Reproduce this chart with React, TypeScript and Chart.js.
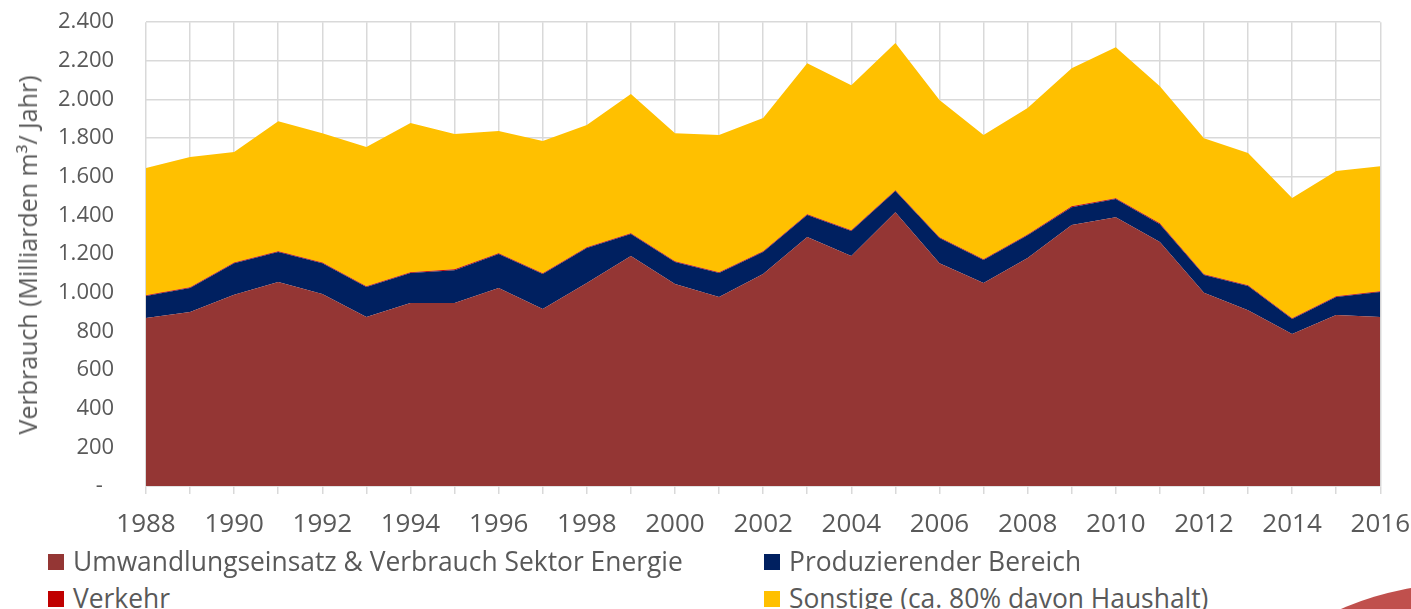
import React, { useEffect, useRef } from "react";
import { Chart, registerables } from "chart.js";

Chart.register(...registerables);

const years = [
  "1988", "1989", "1990", "1991", "1992", "1993", "1994", "1995", "1996", "1997",
  "1998", "1999", "2000", "2001", "2002", "2003", "2004", "2005", "2006", "2007",
  "2008", "2009", "2010", "2011", "2012", "2013", "2014", "2015", "2016",
];

const energieSektor = [
  869, 900, 990, 1055, 993, 874, 947, 947, 1024, 916,
  1050, 1190, 1045, 978, 1097, 1288, 1190, 1417, 1153, 1050,
  1180, 1350, 1391, 1263, 1000, 910, 786, 885, 874,
];

const produzierend = [
  114, 124, 163, 156, 160, 156, 155, 170, 176, 181,
  181, 114, 114, 124, 114, 114, 129, 109, 130, 119,
  118, 93, 94, 92, 92, 125, 78, 93, 130,
];

const verkehr = [
  4, 4, 4, 4, 4, 4, 4, 4, 4, 4,
  4, 4, 4, 4, 4, 4, 4, 4, 4, 4,
  4, 4, 4, 4, 4, 4, 4, 4, 4,
];

const sonstige = [
  658, 674, 571, 673, 669, 720, 772, 700, 633, 684,
  633, 720, 663, 710, 689, 782, 751, 762, 710, 643,
  654, 715, 782, 710, 704, 684, 622, 648, 647,
];

const seriesNames = [
  "Umwandlungseinsatz & Verbrauch Sektor Energie",
  "Produzierender Bereich",
  "Verkehr",
  "Sonstige (ca. 80% davon Haushalt)",
];

const seriesColors = ["#943634", "#002060", "#C00000", "#FFC000"];

const yTitle = "Verbrauch (Milliarden m³/ Jahr)";

const FONT = "'Open Sans', 'DejaVu Sans', sans-serif";
const TEXT = "#595959";
const GRID = "#D9D9D9";

function formatTick(v: number): string {
  if (v === 0) return "-      ";
  const s = Math.round(v).toString();
  return s.replace(/\B(?=(\d{3})+(?!\d))/g, ".") + "    ";
}

export default function App() {
  const canvasRef = useRef<HTMLCanvasElement | null>(null);

  useEffect(() => {
    document.body.style.margin = "0";
    const canvas = canvasRef.current;
    if (!canvas) return;
    const dataSets = [energieSektor, produzierend, verkehr, sonstige];
    const chart = new Chart(canvas, {
      type: "line",
      data: {
        labels: years,
        datasets: dataSets.map((d, i) => ({
          label: seriesNames[i],
          data: d,
          backgroundColor: seriesColors[i],
          borderColor: seriesColors[i],
          borderWidth: 0,
          pointRadius: 0,
          pointHoverRadius: 0,
          tension: 0,
          fill: i === 0 ? "origin" : "-1",
        })),
      },
      options: {
        responsive: false,
        animation: false,
        devicePixelRatio: 1,
        layout: { padding: { left: 0, top: 0, right: 0, bottom: 0 } },
        plugins: {
          legend: { display: false },
          tooltip: { enabled: false },
        },
        scales: {
          x: {
            type: "category",
            offset: false,
            grid: {
              color: GRID,
              lineWidth: 1.5,
              drawTicks: true,
              tickLength: 8,
              tickColor: GRID,
            },
            border: { display: true, color: GRID, width: 1.5 },
            ticks: {
              autoSkip: false,
              maxRotation: 0,
              minRotation: 0,
              padding: 15,
              color: TEXT,
              font: { family: FONT, size: 26 },
              callback: (_v: any, i: number) => (i % 2 === 0 ? years[i] : ""),
            },
            afterFit: (scale: any) => {
              scale.height = 59;
            },
          },
          y: {
            stacked: true,
            min: 0,
            max: 2400,
            grid: { color: GRID, lineWidth: 1.5, drawTicks: false },
            border: { display: false },
            ticks: {
              stepSize: 200,
              padding: 9,
              color: TEXT,
              font: { family: FONT, size: 22 },
              callback: (v: any) => formatTick(Number(v)),
            },
            afterFit: (scale: any) => {
              scale.width = 146;
            },
          },
        },
      },
    });
    return () => chart.destroy();
  }, []);

  const legendItems = [
    { name: seriesNames[0], color: seriesColors[0], x: 48, y: 554 },
    { name: seriesNames[1], color: seriesColors[1], x: 764, y: 554 },
    { name: seriesNames[2], color: seriesColors[2], x: 48, y: 591 },
    { name: seriesNames[3], color: seriesColors[3], x: 764, y: 591 },
  ];

  return (
    <div
      style={{
        position: "fixed",
        left: 0,
        top: 0,
        width: 1411,
        height: 609,
        overflow: "hidden",
        background: "#FFFFFF",
        fontFamily: FONT,
      }}
    >
      <canvas
        ref={canvasRef}
        width={1425}
        height={545}
        style={{ position: "absolute", left: 0, top: 0, width: 1425, height: 545 }}
      />
      <div
        style={{
          position: "absolute",
          left: 27,
          top: 255,
          transform: "translate(-50%, -50%) rotate(-90deg)",
          whiteSpace: "nowrap",
          fontSize: 25,
          color: TEXT,
          lineHeight: "30px",
        }}
      >
        {yTitle}
      </div>
      {legendItems.map((it) => (
        <div key={it.name}>
          <div
            style={{
              position: "absolute",
              left: it.x,
              top: it.y,
              width: 16,
              height: 16,
              background: it.color,
            }}
          />
          <div
            style={{
              position: "absolute",
              left: it.x + 25,
              top: it.y + 7,
              transform: "translateY(-50%)",
              whiteSpace: "nowrap",
              fontSize: 26.4,
              color: TEXT,
              lineHeight: "32px",
            }}
          >
            {it.name}
          </div>
        </div>
      ))}
      <div
        style={{
          position: "absolute",
          left: 1164,
          top: 584,
          width: 592,
          height: 592,
          borderRadius: "50%",
          background: "#C0504D",
        }}
      />
    </div>
  );
}
